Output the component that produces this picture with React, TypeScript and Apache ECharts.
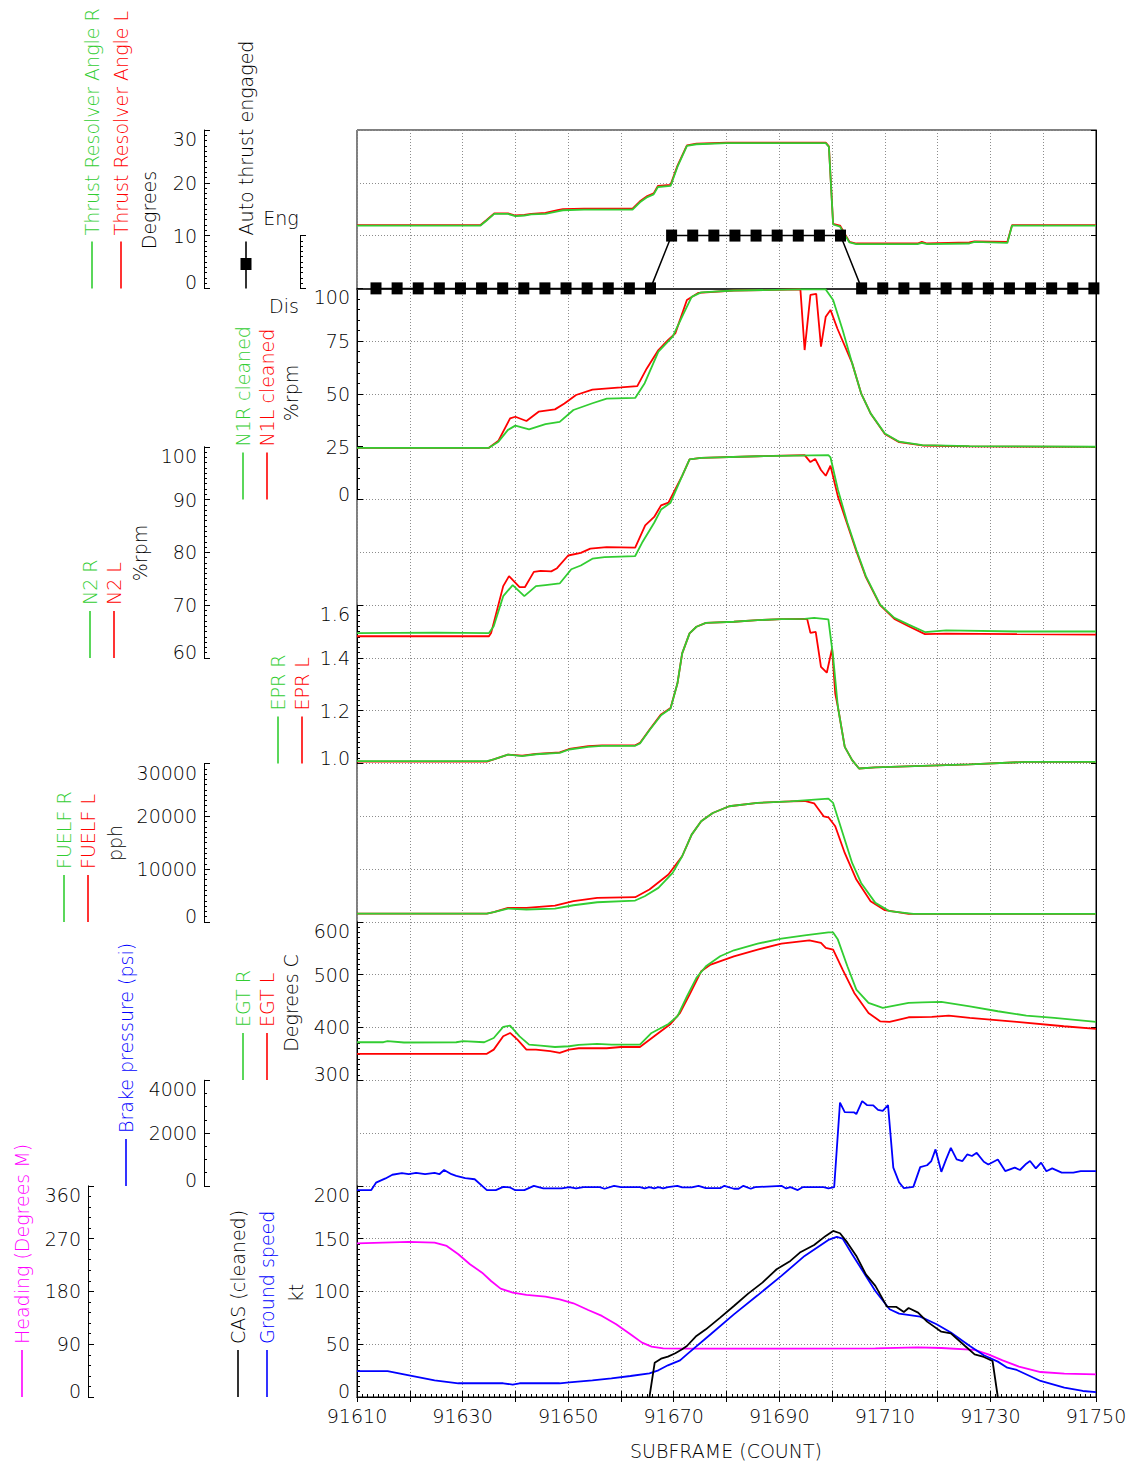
import React, { useEffect, useRef } from 'react';
import * as echarts from 'echarts';

// ---------- DATA ----------
const X_MIN = 91610;
const X_MAX = 91750;
const xTitle = 'SUBFRAME (COUNT)';

const traR: [number, number][] = [
  [91610, 11.9], [91633.4, 11.9], [91634.5, 12.8], [91636, 14.1], [91638.6, 14.1], [91640, 13.7], [91641.7, 13.8],
  [91643, 14.0], [91645.7, 14.1], [91648, 14.6], [91649, 14.8], [91653, 14.9], [91662.2, 14.9], [91663.6, 16.3],
  [91665, 17.3], [91666.2, 17.8], [91667, 19.2], [91669.4, 19.4], [91670.7, 23.0], [91672.5, 27.0], [91674.3, 27.3],
  [91680, 27.5], [91698.8, 27.5], [91699.4, 26.8], [91700.2, 12.1], [91701.5, 11.7], [91703.3, 8.7], [91704.6, 8.4],
  [91716.2, 8.4], [91717, 8.6], [91718, 8.4], [91726, 8.5], [91727, 8.8], [91733.2, 8.6], [91734.1, 11.9], [91750, 11.9],
];
const traL: [number, number][] = [
  [91610, 12.0], [91633.4, 12.0], [91634.5, 12.9], [91636, 14.2], [91638.6, 14.2], [91640, 13.8], [91641.7, 13.9],
  [91643, 14.1], [91645.7, 14.3], [91648, 14.8], [91649, 15.0], [91653, 15.1], [91662.2, 15.1], [91663.6, 16.5],
  [91665, 17.5], [91666.2, 18.0], [91667, 19.4], [91669.4, 19.6], [91670.7, 23.2], [91672.5, 27.1], [91674.3, 27.4],
  [91680, 27.6], [91698.8, 27.6], [91699.4, 26.9], [91700.2, 12.2], [91701.5, 11.9], [91703.3, 8.8], [91704.6, 8.5],
  [91716.2, 8.5], [91717, 8.8], [91718, 8.5], [91726, 8.7], [91727, 8.9], [91733.2, 8.8], [91734.1, 12.0], [91750, 12.0],
];
// 0 = Dis, 1 = Eng
const autoThrust: [number, number][] = [
  [91613.6, 0], [91617.6, 0], [91621.6, 0], [91625.6, 0], [91629.6, 0], [91633.6, 0], [91637.6, 0], [91641.6, 0],
  [91645.6, 0], [91649.6, 0], [91653.6, 0], [91657.6, 0], [91661.6, 0], [91665.6, 0], [91669.6, 1], [91673.6, 1],
  [91677.6, 1], [91681.6, 1], [91685.6, 1], [91689.6, 1], [91693.6, 1], [91697.6, 1], [91701.6, 1], [91705.6, 0],
  [91709.6, 0], [91713.6, 0], [91717.6, 0], [91721.6, 0], [91725.6, 0], [91729.6, 0], [91733.6, 0], [91737.6, 0],
  [91741.6, 0], [91745.6, 0], [91749.6, 0],
];
const n1R: [number, number][] = [
  [91610, 24.5], [91635, 24.5], [91636.8, 27.4], [91638.6, 33], [91640, 35], [91642.6, 33.2], [91645.7, 35.7],
  [91648.4, 36.8], [91651, 42.4], [91654.6, 45.6], [91657.3, 47.8], [91662.7, 48.1], [91664.5, 55.1], [91667.1, 70],
  [91669.8, 77.1], [91671.6, 86.6], [91673.4, 96], [91675.2, 98.1], [91681.4, 99], [91694, 99.5], [91698.8, 99.5],
  [91700.2, 94.5], [91702, 80.3], [91703.8, 64.6], [91705.5, 50.3], [91707.3, 40.8], [91710, 31.3], [91712.7, 27.4],
  [91717.1, 25.8], [91726, 25.3], [91750, 25.0],
];
const n1L: [number, number][] = [
  [91610, 24.5], [91635, 24.5], [91636.8, 27.9], [91639, 38.4], [91640, 39.2], [91642.1, 37.2], [91644.4, 41.6],
  [91647.5, 42.7], [91649.3, 45.5], [91651.5, 49.5], [91654.6, 52.1], [91660, 53.1], [91663.1, 53.7], [91664.9, 62.1],
  [91667.1, 70.8], [91668.9, 75.5], [91670.3, 78.7], [91672.5, 94.5], [91674.7, 97.9], [91681.4, 99.0], [91694, 99.5],
  [91694.8, 70.8], [91695.9, 96.9], [91697, 97.4], [91697.9, 72.4], [91698.8, 86.6], [91699.7, 89.8], [91701, 81],
  [91703.8, 64.6], [91705.5, 50.3], [91707.3, 40.8], [91710, 31.0], [91712.7, 27.2], [91717.1, 25.6], [91726, 25.2],
  [91750, 24.9],
];
const n2R: [number, number][] = [
  [91610, 64.7], [91625, 64.8], [91635, 64.7], [91635.9, 66], [91637.7, 71.7], [91639.5, 73.8], [91641.7, 71.7],
  [91643.9, 73.6], [91645.7, 73.8], [91648.4, 74.1], [91650.6, 76.8], [91652.4, 77.5], [91654.6, 78.8], [91656.9, 79.1],
  [91662.7, 79.3], [91664, 81.8], [91666.3, 85.6], [91667.6, 88.1], [91669.4, 89.4], [91671.6, 94.5], [91673, 97.6],
  [91675.2, 97.9], [91685.9, 98.2], [91699.3, 98.4], [91699.7, 98], [91701.1, 91.9], [91702.9, 85.6], [91704.6, 80.5],
  [91706.4, 75.5], [91709.1, 70.1], [91711.8, 67.6], [91714.5, 66.3], [91717.6, 64.9], [91721.6, 65.2], [91735, 65.0],
  [91750, 65.0],
];
const n2L: [number, number][] = [
  [91610, 64.1], [91635, 64.1], [91635.4, 64.7], [91637.7, 73.6], [91638.8, 75.5], [91640.8, 73.4], [91641.8, 73.4],
  [91643.5, 76.3], [91644.8, 76.5], [91646.8, 76.4], [91647.9, 77.0], [91650, 79.4], [91652.4, 79.9], [91654.2, 80.7],
  [91657.3, 81.0], [91662.7, 80.9], [91664.6, 85.1], [91666.3, 86.7], [91667.6, 88.9], [91669, 89.4], [91671.6, 94.5],
  [91673, 97.6], [91675.2, 97.9], [91685.9, 98.2], [91694.8, 98.4], [91695.9, 97.1], [91696.8, 97.7], [91697.9, 95.6],
  [91698.8, 94.5], [91699.7, 96.4], [91701.1, 90.6], [91702.9, 85.3], [91704.6, 80.2], [91706.4, 75.3], [91709.1, 70.0],
  [91711.8, 67.4], [91714.5, 66.0], [91717.6, 64.5], [91721.6, 64.6], [91735, 64.5], [91750, 64.4],
];
const eprR: [number, number][] = [
  [91610, 1.009], [91634.6, 1.009], [91635.9, 1.016], [91638.6, 1.034], [91641.3, 1.028], [91643.9, 1.035],
  [91648.4, 1.04], [91650.2, 1.053], [91653.8, 1.063], [91656.4, 1.067], [91662.7, 1.067], [91663.6, 1.076],
  [91665.4, 1.126], [91667.6, 1.183], [91669.4, 1.208], [91670.7, 1.303], [91671.6, 1.417], [91673, 1.493],
  [91674.3, 1.518], [91676.1, 1.533], [91681.4, 1.537], [91685.9, 1.543], [91690.4, 1.547], [91694.8, 1.548],
  [91696.6, 1.552], [91699.3, 1.546], [91700.2, 1.404], [91701.1, 1.215], [91702.4, 1.063], [91703.8, 1.013],
  [91705.1, 0.981], [91708.2, 0.985], [91717.1, 0.991], [91726.1, 0.997], [91736.8, 1.006], [91750, 1.006],
];
const eprL: [number, number][] = [
  [91610, 1.007], [91634.6, 1.007], [91635.9, 1.016], [91638.6, 1.034], [91641.3, 1.030], [91643.9, 1.036],
  [91648.4, 1.042], [91650.2, 1.055], [91653.8, 1.066], [91656.4, 1.069], [91662.7, 1.069], [91663.6, 1.078],
  [91665.4, 1.128], [91667.6, 1.186], [91669.4, 1.210], [91670.7, 1.303], [91671.6, 1.417], [91673, 1.493],
  [91674.3, 1.518], [91676.1, 1.533], [91681.4, 1.537], [91685.9, 1.543], [91690.4, 1.547], [91694.8, 1.548],
  [91695.3, 1.546], [91695.9, 1.495], [91696.9, 1.499], [91697.9, 1.366], [91699, 1.344], [91700, 1.436],
  [91700.6, 1.265], [91701.1, 1.215], [91702.4, 1.063], [91703.8, 1.013], [91705.1, 0.981], [91708.2, 0.985],
  [91717.1, 0.991], [91726.1, 0.997], [91736.8, 1.006], [91750, 1.006],
];
const fuelR: [number, number][] = [
  [91610, 1580], [91634.6, 1580], [91635.9, 1830], [91638.6, 2520], [91642.1, 2340], [91647.5, 2520], [91651, 3150],
  [91655.5, 3720], [91662.7, 4040], [91664.5, 4860], [91667.1, 6440], [91669.8, 9280], [91671.6, 12430],
  [91673.4, 16530], [91675.2, 19060], [91677.4, 20630], [91680.5, 21900], [91685.9, 22530], [91692.1, 22840],
  [91699.3, 23350], [91700.2, 22530], [91702, 16850], [91703.8, 11170], [91705.5, 7380], [91708.2, 3600],
  [91710.9, 2020], [91715.4, 1510], [91750, 1510],
];
const fuelL: [number, number][] = [
  [91610, 1580], [91634.6, 1580], [91635.9, 1830], [91638.6, 2650], [91642.1, 2650], [91647.5, 3090], [91651, 3910],
  [91655.5, 4540], [91662.7, 4670], [91665.4, 6120], [91669, 8960], [91671.6, 12430], [91673.4, 16530],
  [91675.2, 19060], [91677.4, 20630], [91680.5, 21900], [91685.9, 22530], [91692.1, 22840], [91694.8, 22900],
  [91696.6, 22460], [91698.4, 20000], [91699.3, 19810], [91700.6, 18110], [91702.4, 13060], [91704.6, 8010],
  [91707.3, 3910], [91710, 2210], [91714.5, 1510], [91750, 1510],
];
const egtR: [number, number][] = [
  [91610, 372], [91615, 372], [91615.8, 374], [91618.9, 371.5], [91628.8, 372], [91630.1, 374], [91634.1, 372],
  [91635.9, 380], [91637.7, 401], [91639, 403.5], [91640.8, 383], [91642.6, 367.5], [91644.8, 365.7], [91647.5, 363],
  [91650.2, 364.4], [91652, 367], [91655.5, 368.8], [91658.2, 367.5], [91663.6, 367.5], [91665.8, 389.6],
  [91669, 406.7], [91670.7, 421.2], [91672.5, 459], [91674.3, 493.8], [91676.1, 515.9], [91678.8, 534.8],
  [91681.4, 546.2], [91685.9, 558.8], [91690.4, 568.3], [91694.8, 574.6], [91699.3, 580.3], [91700.2, 580],
  [91701.1, 566.4], [91702.9, 515.9], [91704.6, 471.7], [91706.9, 446.5], [91709.6, 437], [91714.5, 446.5],
  [91717.1, 447.7], [91720.7, 448.4], [91726.1, 440], [91731.4, 430.7], [91736.8, 422.5], [91742.1, 418],
  [91750, 410.5],
];
const egtL: [number, number][] = [
  [91610, 350], [91634.6, 350], [91635.9, 358], [91637.7, 383.3], [91639, 389.6], [91640.4, 377], [91642.1, 358],
  [91643.9, 358], [91646.6, 355], [91648.4, 351.8], [91650.2, 358], [91652, 360.6], [91657.3, 360.6], [91660, 363],
  [91663.6, 363], [91666.3, 383.3], [91669.4, 406.7], [91671.2, 427.5], [91673, 462.2], [91675.2, 506.4],
  [91677, 519], [91681.4, 534.8], [91685.9, 547.5], [91690.4, 558.8], [91695.7, 565.1], [91697.9, 560],
  [91698.8, 550.6], [91700.2, 547.5], [91702, 509.6], [91704.2, 465.4], [91706.9, 427.5], [91709.1, 411.7],
  [91710.9, 410.5], [91714.5, 419.3], [91718.9, 420], [91722.1, 422.5], [91726.1, 418], [91735, 410.5],
  [91743.9, 402.3], [91750, 397.2],
];
const brake: [number, number][] = [
  [91610, -160], [91612.7, -160], [91613.6, 120], [91615.4, 280], [91616.7, 420], [91618.5, 480], [91619.8, 440],
  [91621.2, 490], [91622.9, 440], [91624.7, 490], [91625.6, 440], [91626.5, 600], [91627.9, 440], [91628.8, 380],
  [91630.5, 290], [91632.3, 250], [91634.6, -160], [91636.3, -160], [91637.7, -40], [91639, -60], [91639.9, -160],
  [91641.7, -160], [91643.5, 0], [91645.3, -100], [91648.8, -100], [91650.2, -50], [91651.5, -100], [91652.9, -50],
  [91656, -50], [91656.9, -110], [91658.7, 0], [91660, -50], [91663.6, -50], [91664.5, -100], [91665.4, -50],
  [91666.3, -100], [91667.1, -50], [91668, -100], [91668.9, -50], [91670.7, 0], [91671.6, -60], [91673.4, -60],
  [91674.7, 0], [91676.1, -90], [91678.8, -90], [91679.6, 0], [91681.4, -110], [91682.3, -110], [91683.2, 0],
  [91684.6, -110], [91685.4, -50], [91690.4, 0], [91691.3, -100], [91692.1, -50], [91693.5, -160], [91694.4, -50],
  [91698.4, -50], [91699.3, -100], [91700.4, -50], [91701.5, 3150], [91702.4, 2790], [91704.2, 2780],
  [91704.6, 2720], [91705.7, 3210], [91706.6, 3060], [91707.8, 3050], [91708.7, 2880], [91709.6, 2840],
  [91710.6, 3060], [91711.6, 690], [91712.7, 130], [91713.6, -90], [91715.4, -40], [91716.7, 710], [91718, 780],
  [91718.8, 940], [91719.6, 1380], [91720.7, 530], [91721.6, 1000], [91722.5, 1440], [91723.6, 1000],
  [91724.7, 940], [91725.6, 1190], [91726.5, 1130], [91727.4, 1250], [91728.75, 910], [91729.6, 810],
  [91731.4, 1000], [91732.8, 560], [91734.6, 690], [91735.6, 600], [91736.8, 840], [91737.5, 940], [91738.6, 660],
  [91739.6, 880], [91740.6, 550], [91741.7, 660], [91743.5, 500], [91745.7, 500], [91747.1, 560], [91750, 560],
];
const heading: [number, number][] = [
  [91610, 262], [91619.8, 264.4], [91624.7, 263.3], [91627, 257.5], [91629.2, 243.3], [91631.4, 226.3],
  [91633.7, 212], [91635.4, 197.8], [91637.2, 184.8], [91639.5, 178], [91642.1, 174], [91645.7, 171.1],
  [91648.4, 166.6], [91651, 159.8], [91653.8, 148.4], [91656.4, 138.2], [91659.1, 123.9], [91661.8, 106.9],
  [91664, 92.7], [91665.8, 85.9], [91668, 83], [91672.5, 82.4], [91690.4, 82.4], [91708.2, 83], [91716.2, 84.7],
  [91720.7, 83.5], [91727, 80.2], [91729.6, 72.8], [91732.3, 62.5], [91735.4, 51.7], [91739.5, 42.6], [91744, 39.8],
  [91750, 38.7],
];
const groundSpeed: [number, number][] = [
  [91610, 24.6], [91615.8, 24.6], [91618.9, 21.5], [91624.7, 15.8], [91629.2, 13], [91637.7, 13], [91639.5, 11.7],
  [91640.8, 13], [91648.4, 13], [91650.2, 13.9], [91654.6, 15.8], [91658.2, 17.7], [91661.8, 19.9], [91665.4, 22.4],
  [91667.1, 25.3], [91668.9, 30], [91671.2, 34.7], [91672.5, 40.4], [91677, 59.4], [91681.4, 78.3], [91685.9, 96.3],
  [91690.4, 114.7], [91694.8, 133.6], [91699.3, 148.8], [91700.9, 151.6], [91702, 150], [91703.8, 135.2],
  [91706.4, 114.7], [91708.2, 100.4], [91710.9, 83.1], [91712.7, 79], [91716.7, 76.1], [91719.8, 68.9],
  [91722.5, 61], [91726.1, 48.3], [91728.75, 39.5], [91731.4, 33.5], [91733.2, 27.8], [91735, 25.6],
  [91739.5, 15.2], [91744, 8.8], [91747.5, 5.7], [91750, 4.7],
];
const cas: [number, number][] = [
  [91665.4, 0], [91666.4, 32.5], [91667.6, 36.3], [91668.9, 38.2], [91670.3, 41.4], [91671.6, 45.2], [91672.5, 48.3],
  [91674.3, 57.8], [91676.1, 64.1], [91678.8, 75.2], [91681.4, 86.2], [91684.1, 97.9], [91686.8, 108.3],
  [91689.5, 121], [91692.1, 128.9], [91693.9, 136.8], [91696.6, 144], [91698.8, 152.6], [91700.2, 157.3],
  [91701.5, 155.1], [91702.9, 146.2], [91704.6, 133.6], [91706.4, 116.2], [91708.2, 105.2], [91710.4, 85.6],
  [91712.2, 85.3], [91713.6, 80.5], [91714.5, 84.3], [91716.3, 79.9], [91718, 71.4], [91720.7, 61.9],
  [91722.5, 60.3], [91725.2, 48.3], [91727, 40.4], [91728.75, 37.9], [91730.4, 34.1], [91731.4, 0],
];

// ---------- STYLE / LAYOUT ----------
const FONT = 'DejaVu Sans';
const FW = 200;
const FS = 19;
const GREEN = 'rgb(50,205,50)';
const RED = '#ff0000';
const BLUE = '#0000ff';
const MAG = '#ff00ff';
const BLACK = '#000000';
const GRIDC = '#8c8c8c';
const PL = 357, PR = 1096, PT = 130, PB = 1397;
const K = (PB - PT) / 24;

type Panel = { k0: number; k1: number; min: number; max: number; interval: number; offset: number; minor: number; dec?: number; labels?: boolean; showX?: boolean };
const panels: Panel[] = [
  { k0: 0, k1: 3, min: 0, max: 30, interval: 10, offset: 153, minor: 10 }, // 0 TRA
  { k0: 2, k1: 3, min: 0, max: 1, interval: 1, offset: 57, minor: 10, labels: false, showX: true }, // 1 AT
  { k0: 3, k1: 7, min: 0, max: 100, interval: 25, offset: 0, minor: 5 }, // 2 N1
  { k0: 6, k1: 10, min: 60, max: 100, interval: 10, offset: 153, minor: 10 }, // 3 N2
  { k0: 9, k1: 12, min: 1.0, max: 1.6, interval: 0.2, offset: 0, minor: 10, dec: 1 }, // 4 EPR
  { k0: 12, k1: 15, min: 0, max: 30000, interval: 10000, offset: 153, minor: 10 }, // 5 FUELF
  { k0: 15, k1: 18, min: 300, max: 600, interval: 100, offset: 0, minor: 10 }, // 6 EGT
  { k0: 18, k1: 20, min: 0, max: 4000, interval: 2000, offset: 153, minor: 4 }, // 7 Brake
  { k0: 20, k1: 24, min: 0, max: 360, interval: 90, offset: 269, minor: 5 }, // 8 Heading
  { k0: 20, k1: 24, min: 0, max: 200, interval: 50, offset: 0, minor: 10 }, // 9 kt
];

const legends: [number, number, string, string][] = [
  [92, 288.4, 'Thrust Resolver Angle R', GREEN],
  [121, 288.4, 'Thrust Resolver Angle L', RED],
  [246, 288.4, 'Auto thrust engaged', BLACK],
  [243, 499.5, 'N1R cleaned', GREEN],
  [267, 499.5, 'N1L cleaned', RED],
  [90, 658, 'N2 R', GREEN],
  [114, 658, 'N2 L', RED],
  [278, 763.5, 'EPR R', GREEN],
  [302, 763.5, 'EPR L', RED],
  [64, 922, 'FUELF R', GREEN],
  [88, 922, 'FUELF L', RED],
  [243, 1080, 'EGT R', GREEN],
  [267, 1080, 'EGT L', RED],
  [126, 1186, 'Brake pressure (psi)', BLUE],
  [22, 1397, 'Heading (Degrees M)', MAG],
  [238, 1397, 'CAS (cleaned)', BLACK],
  [267, 1397, 'Ground speed', BLUE],
];
const unitLabels: [string, number, number][] = [
  ['Degrees', 149, 210],
  ['%rpm', 291, 393],
  ['%rpm', 139.5, 553],
  ['pph', 115, 843],
  ['Degrees C', 290.5, 1003],
  ['kt', 296, 1293],
];

function buildOption() {
  const txt = { fontSize: FS, fontFamily: FONT, fontWeight: FW };
  const grids: any[] = [{ left: PL, top: PT, width: PR - PL, height: PB - PT, show: true, borderColor: '#000', borderWidth: 1, backgroundColor: 'transparent' }];
  const xAxes: any[] = [
    {
      type: 'value', gridIndex: 0, min: X_MIN, max: X_MAX, interval: 10, position: 'bottom',
      axisLine: { show: true, lineStyle: { color: '#000', width: 1 } },
      axisTick: { show: true, inside: true, length: 6, lineStyle: { color: '#000' } },
      minorTick: { show: true, splitNumber: 10, length: 3, lineStyle: { color: '#000' } },
      splitLine: { show: true, lineStyle: { color: GRIDC, type: [1, 2], width: 1 } },
      axisLabel: {
        show: true, margin: 9, color: '#000', ...txt,
        formatter: (v: number) => ((Math.round(v - X_MIN) % 20 === 0) ? String(Math.round(v)) : ''),
      },
    },
    {
      type: 'value', gridIndex: 0, min: X_MIN, max: X_MAX, interval: 10, position: 'top',
      axisLine: { show: true, lineStyle: { color: '#000' } },
      axisTick: { show: true, inside: true, length: 5, lineStyle: { color: '#000' } },
      axisLabel: { show: false }, splitLine: { show: false },
    },
  ];
  const yAxes: any[] = [
    {
      type: 'value', gridIndex: 0, min: 0, max: 24, interval: 1, position: 'left',
      axisLine: { show: false }, axisTick: { show: false }, axisLabel: { show: false },
      splitLine: { show: true, lineStyle: { color: GRIDC, type: [1, 2], width: 1 } },
    },
    {
      type: 'value', gridIndex: 0, min: 0, max: 24, interval: 1, position: 'right',
      axisLine: { show: true, lineStyle: { color: '#000' } },
      axisTick: { show: true, inside: true, length: 5, lineStyle: { color: '#000' } },
      axisLabel: { show: false }, splitLine: { show: false },
    },
  ];
  const rich = {
    n: { ...txt, color: '#000' },
    hi: { ...txt, color: '#000', padding: [18, 0, 0, 0] },
    lo: { ...txt, color: '#000', padding: [0, 0, 12, 0] },
  };
  panels.forEach((p, i) => {
    grids.push({ left: PL, width: PR - PL, top: PT + p.k0 * K, height: (p.k1 - p.k0) * K });
    xAxes.push({
      type: 'value', gridIndex: i + 1, min: X_MIN, max: X_MAX, position: 'bottom',
      show: !!p.showX,
      axisLine: { show: !!p.showX, lineStyle: { color: '#333', width: 2 } },
      axisTick: { show: false }, axisLabel: { show: false }, splitLine: { show: false },
    });
    yAxes.push({
      type: 'value', gridIndex: i + 1, min: p.min, max: p.max, interval: p.interval, position: 'left', offset: p.offset,
      axisLine: { show: true, lineStyle: { color: '#000', width: 1 } },
      axisTick: { show: true, inside: true, length: 6, lineStyle: { color: '#000' } },
      minorTick: { show: true, splitNumber: p.minor, length: 3, lineStyle: { color: '#000' } },
      splitLine: { show: false },
      axisLabel: {
        show: p.labels !== false, margin: 7, rich,
        formatter: (v: number) => {
          const s = p.dec ? v.toFixed(p.dec) : String(Math.round(v));
          if (Math.abs(v - p.max) < 1e-6) return `{hi|${s}}`;
          if (Math.abs(v - p.min) < 1e-6) return `{lo|${s}}`;
          return `{n|${s}}`;
        },
      },
    });
  });

  const line = (data: [number, number][], color: string, pi: number, width = 1.8, z = 3) => ({
    type: 'line', data, xAxisIndex: pi + 2, yAxisIndex: pi + 2, showSymbol: false, symbol: 'none', clip: false,
    lineStyle: { color, width }, itemStyle: { color }, z, silent: true,
  });

  const series: any[] = [
    line(traL, RED, 0), line(traR, GREEN, 0),
    {
      type: 'line', data: autoThrust, xAxisIndex: 3, yAxisIndex: 3, symbol: 'rect', symbolSize: [11, 12], showSymbol: true,
      clip: false, lineStyle: { color: BLACK, width: 1.5 }, itemStyle: { color: BLACK }, z: 4, silent: true,
    },
    line(n1L, RED, 2), line(n1R, GREEN, 2),
    line(n2L, RED, 3), line(n2R, GREEN, 3),
    line(eprL, RED, 4), line(eprR, GREEN, 4),
    line(fuelL, RED, 5), line(fuelR, GREEN, 5),
    line(egtL, RED, 6), line(egtR, GREEN, 6),
    line(brake, BLUE, 7),
    line(heading, MAG, 8),
    line(groundSpeed, BLUE, 9), line(cas, BLACK, 9),
  ];

  const graphics: any[] = [];
  legends.forEach(([x, yb, text, color]) => {
    graphics.push({ type: 'line', shape: { x1: x, y1: yb, x2: x, y2: yb - 47 }, style: { stroke: color, lineWidth: 1.6 }, silent: true });
    graphics.push({
      type: 'text', x, y: yb - 53, rotation: Math.PI / 2, silent: true,
      style: { text, fill: color, ...txt, align: 'left', verticalAlign: 'middle' },
    });
  });
  // auto thrust legend marker
  graphics.push({ type: 'rect', shape: { x: 246 - 5.5, y: 264 - 6, width: 11, height: 12 }, style: { fill: BLACK }, silent: true });
  unitLabels.forEach(([text, x, y]) => {
    graphics.push({
      type: 'text', x, y, rotation: Math.PI / 2, silent: true,
      style: { text, fill: BLACK, ...txt, align: 'center', verticalAlign: 'middle' },
    });
  });
  graphics.push({ type: 'text', x: 281, y: 218, silent: true, style: { text: 'Eng', fill: BLACK, ...txt, align: 'center', verticalAlign: 'middle' } });
  graphics.push({ type: 'text', x: 284, y: 306, silent: true, style: { text: 'Dis', fill: BLACK, ...txt, align: 'center', verticalAlign: 'middle' } });
  graphics.push({ type: 'text', x: 726, y: 1451, silent: true, style: { text: xTitle, fill: BLACK, ...txt, align: 'center', verticalAlign: 'middle' } });

  return {
    animation: false,
    backgroundColor: '#ffffff',
    textStyle: { fontFamily: FONT, fontWeight: FW },
    grid: grids,
    xAxis: xAxes,
    yAxis: yAxes,
    series,
    graphic: graphics,
  };
}

export default function App() {
  const ref = useRef<HTMLDivElement>(null);
  useEffect(() => {
    if (!ref.current) return;
    const chart = echarts.init(ref.current, null, { renderer: 'svg' });
    chart.setOption(buildOption() as any);
    return () => chart.dispose();
  }, []);
  return <div ref={ref} style={{ position: 'absolute', left: 0, top: 0, width: 1132, height: 1466, background: '#fff' }} />;
}
